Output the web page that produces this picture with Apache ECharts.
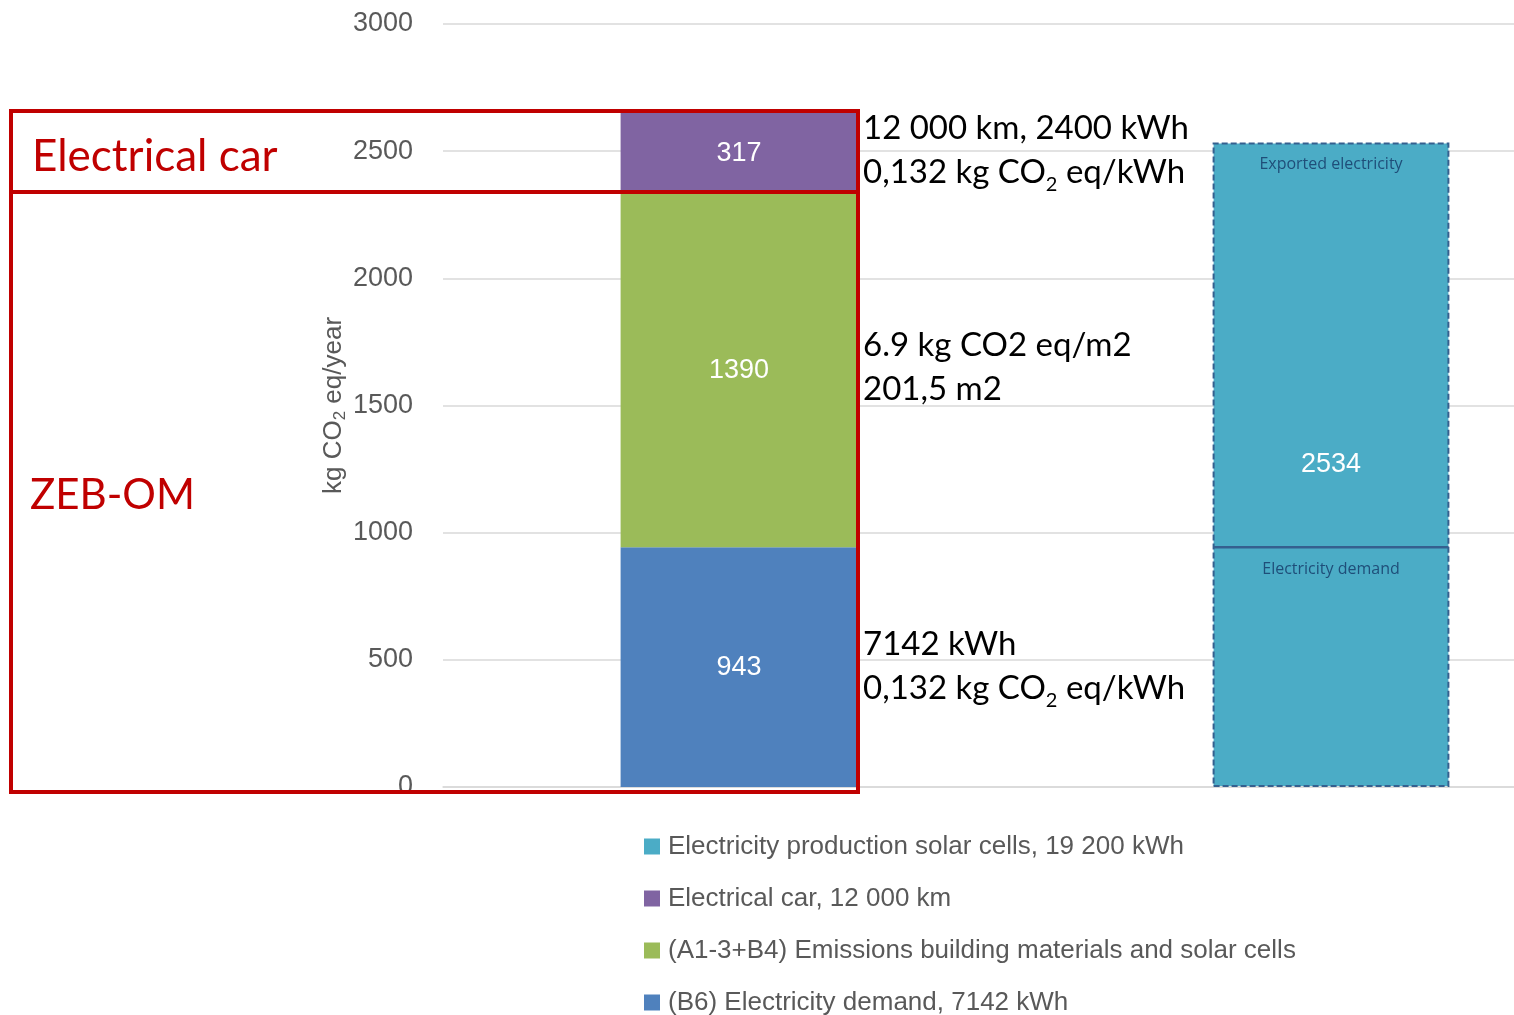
<!DOCTYPE html>
<html>
<head>
<meta charset="utf-8">
<script src="https://cdn.jsdelivr.net/npm/echarts@6/dist/echarts.min.js"></script>
<style>
  html, body { margin: 0; padding: 0; background: #fff; }
  #chart { width: 1514px; height: 1015px; }
</style>
</head>
<body>
<div id="chart"></div>
<script>
// Yearly emissions for the ZEB-OM house (left) against the credit from exported solar power (right)
const categories = ['ZEB-OM', 'Solar'];

const electricityDemand = [943, '-'];      // (B6)
const buildingMaterials = [1390, '-'];     // (A1-3+B4)
const electricalCar = [317, '-'];
const solarProduction = ['-', 2534];

// level of the own-use share inside the solar column, with its caption
const solarSplit = [
  [1, 943, 'Electricity demand', 1],
  [1, 2534, 'Exported electricity', 0]
];

const yTicks = { min: 0, max: 3000, interval: 500 };

const seriesNames = {
  solar: 'Electricity production solar cells, 19 200 kWh',
  car: 'Electrical car, 12 000 km',
  materials: '(A1-3+B4) Emissions building materials and solar cells',
  demand: '(B6) Electricity demand, 7142 kWh'
};

const colors = {
  demand: '#4F81BD',
  materials: '#9BBB59',
  car: '#8064A2',
  solar: '#4BACC6',
  solarEdge: '#35608F',
  red: '#C00000'
};

const narrow = "'Liberation Sans Narrow', 'Arial Narrow', 'Liberation Sans', sans-serif";
const body = "Lato, 'Open Sans', sans-serif";
const BAR_RATIO = 0.4;

const chart = echarts.init(document.getElementById('chart'));

const barLabel = {
  show: true,
  position: 'inside',
  color: '#fff',
  fontFamily: narrow,
  fontSize: 27
};

const subRich = {
  m: { fontFamily: body, fontSize: 33, color: '#000', lineHeight: 44 },
  s: { fontFamily: body, fontSize: 20, color: '#000', lineHeight: 44, verticalAlign: 'bottom' }
};

chart.setOption({
  animation: false,
  backgroundColor: '#fff',
  grid: { left: 443, top: 24, width: 1184, bottom: 228, containLabel: false, outerBoundsMode: 'none' },
  xAxis: {
    type: 'category',
    data: categories,
    axisLine: { show: true, lineStyle: { color: '#D9D9D9', width: 1.5 } },
    axisTick: { show: false },
    axisLabel: { show: false }
  },
  yAxis: {
    type: 'value',
    min: yTicks.min,
    max: yTicks.max,
    interval: yTicks.interval,
    axisLine: { show: false },
    axisTick: { show: false },
    splitLine: { lineStyle: { color: '#D9D9D9', width: 1.5 } },
    axisLabel: { color: '#595959', fontFamily: narrow, fontSize: 27, margin: 30, formatter: function (v) { return String(v); } },
    name: 'kg CO{s|2} eq/year',
    nameLocation: 'middle',
    nameRotate: 90,
    nameGap: 94,
    nameMoveOverlap: false,
    nameTextStyle: {
      color: '#595959', fontFamily: narrow, fontSize: 26,
      rich: {
        s: { color: '#595959', fontFamily: narrow, fontSize: 17, verticalAlign: 'bottom', lineHeight: 30 }
      }
    }
  },
  legend: {
    orient: 'vertical',
    left: 639,
    top: 825,
    height: 300,
    icon: 'rect',
    itemWidth: 16,
    itemHeight: 16,
    itemGap: 19,
    itemStyle: { borderWidth: 0 },
    data: [seriesNames.solar, seriesNames.car, seriesNames.materials, seriesNames.demand],
    textStyle: { color: '#595959', fontFamily: narrow, fontSize: 26, lineHeight: 33, padding: [0, 0, 0, 3] }
  },
  series: [
    {
      name: seriesNames.demand, type: 'bar', stack: 'total', barWidth: (BAR_RATIO * 100) + '%',
      data: electricityDemand, itemStyle: { color: colors.demand }, label: barLabel
    },
    {
      name: seriesNames.materials, type: 'bar', stack: 'total',
      data: buildingMaterials, itemStyle: { color: colors.materials }, label: barLabel
    },
    {
      name: seriesNames.car, type: 'bar', stack: 'total',
      data: electricalCar, itemStyle: { color: colors.car }, label: barLabel
    },
    {
      name: seriesNames.solar, type: 'bar', stack: 'total',
      data: solarProduction,
      itemStyle: { color: colors.solar, borderColor: colors.solarEdge, borderWidth: 2, borderType: [6, 3] },
      label: barLabel
    },
    {
      type: 'custom',
      z: 5,
      silent: true,
      data: solarSplit,
      renderItem: function (params, api) {
        const p = api.coord([api.value(0), api.value(1)]);
        const w = api.size([1, 0])[0] * BAR_RATIO;
        const children = [];
        if (api.value(3) === 1) {
          children.push({
            type: 'line',
            shape: { x1: p[0] - w / 2 + 1, y1: p[1], x2: p[0] + w / 2 - 1, y2: p[1] },
            style: { stroke: colors.solarEdge, lineWidth: 2.5 }
          });
        }
        children.push({
          type: 'text',
          style: {
            x: p[0], y: p[1] + 22,
            text: solarSplit[params.dataIndex][2],
            fill: '#1F4E79',
            font: '16px ' + "'Open Sans', Lato, sans-serif",
            align: 'center',
            verticalAlign: 'middle'
          }
        });
        return { type: 'group', children: children };
      }
    }
  ],
  graphic: [
    // red frames marking the car share and the building share
    {
      type: 'rect', z: 20, silent: true,
      shape: { x: 11, y: 111, width: 847, height: 681 },
      style: { fill: 'none', stroke: colors.red, lineWidth: 4 }
    },
    {
      type: 'line', z: 20, silent: true,
      shape: { x1: 11, y1: 192, x2: 858, y2: 192 },
      style: { stroke: colors.red, lineWidth: 4 }
    },
    {
      type: 'text', z: 21, left: 32, top: 135,
      style: { text: 'Electrical car', fill: colors.red, font: '44px ' + body }
    },
    {
      type: 'text', z: 21, left: 30, top: 474,
      style: { text: 'ZEB-OM', fill: colors.red, font: '42px ' + body }
    },
    // notes on how each share is calculated
    {
      type: 'text', z: 21, left: 863, top: 112,
      style: { text: '{m|12 000 km, 2400 kWh}', rich: subRich }
    },
    {
      type: 'text', z: 21, left: 863, top: 156,
      style: { text: '{m|0,132 kg CO}{s|2}{m| eq/kWh}', rich: subRich }
    },
    {
      type: 'text', z: 21, left: 863, top: 329,
      style: { text: '{m|6.9 kg CO2 eq/m2}', rich: subRich }
    },
    {
      type: 'text', z: 21, left: 863, top: 373,
      style: { text: '{m|201,5 m2}', rich: subRich }
    },
    {
      type: 'text', z: 21, left: 863, top: 628,
      style: { text: '{m|7142 kWh}', rich: subRich }
    },
    {
      type: 'text', z: 21, left: 863, top: 672,
      style: { text: '{m|0,132 kg CO}{s|2}{m| eq/kWh}', rich: subRich }
    }
  ]
});
</script>
</body>
</html>
